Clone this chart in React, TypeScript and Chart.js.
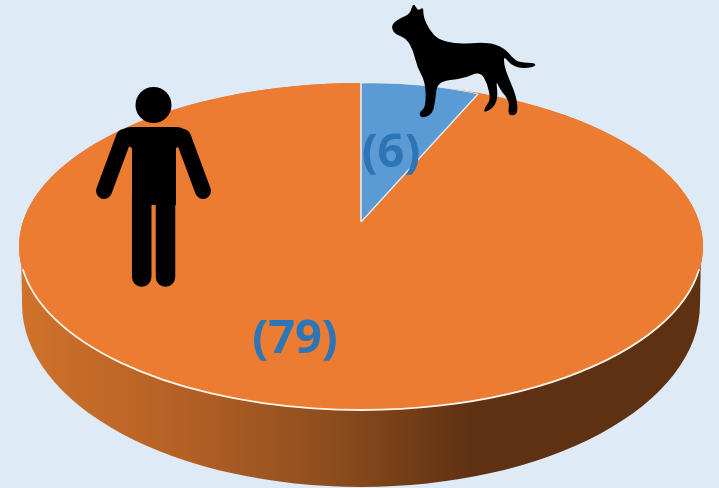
import React, { useEffect, useRef } from "react";
import { Chart, registerables } from "chart.js";

Chart.register(...registerables);

const categories = ["Dog", "Human"];
const seriesValues = [6, 79];
const sliceColors = ["#5B9BD5", "#EB7C31"];

const BG = "#DEEAF6";
const TEXT = "#2E75B6";
const W = 719;
const H = 488;

// Perspective look of the top face
const FACE = { cx: 361, cy: 246.5, rx: 342, ry: 163.5 };
const RIM = { cx: 361, cy: 304, rx: 339, ry: 183 };
const APEX = { x: 361, y: 222 };
const TIP = { x: 478, y: 94 };
const TOP_Y = 83;
const LABEL_POS = [
  { x: 391, y: 154 },
  { x: 295, y: 340 },
];

// Decorative silhouettes
const dogOutline = [
  [94, 72], [125, 52], [150, 42], [160, 6], [174, 34], [190, 20], [190, 50], [208, 90], [235, 118],
  [290, 133], [380, 126], [432, 142], [458, 175], [480, 188], [526, 188], [526, 200], [480, 206],
  [450, 192], [432, 168], [432, 195], [444, 230], [470, 290], [474, 346], [442, 346], [450, 305],
  [420, 268], [408, 240], [414, 290], [402, 322], [370, 340], [376, 320], [392, 300], [382, 250],
  [360, 214], [310, 236], [232, 244], [226, 300], [218, 342], [185, 356], [176, 338], [198, 322],
  [196, 244], [172, 204], [160, 152], [138, 114], [100, 100],
];

function drawMan(ctx: CanvasRenderingContext2D) {
  ctx.save();
  ctx.fillStyle = "#000";
  ctx.strokeStyle = "#000";
  ctx.lineCap = "round";
  ctx.lineJoin = "round";
  ctx.beginPath();
  ctx.arc(153.5, 105, 18, 0, Math.PI * 2);
  ctx.fill();
  ctx.beginPath();
  ctx.moveTo(116, 140);
  ctx.quadraticCurveTo(120, 127, 132, 127);
  ctx.lineTo(176, 127);
  ctx.quadraticCurveTo(187, 127, 191, 140);
  ctx.lineTo(176, 148);
  ctx.lineTo(176, 205);
  ctx.lineTo(132, 205);
  ctx.lineTo(132, 148);
  ctx.closePath();
  ctx.fill();
  ctx.lineWidth = 16;
  ctx.beginPath();
  ctx.moveTo(124, 137);
  ctx.lineTo(104, 191);
  ctx.moveTo(183, 137);
  ctx.lineTo(203, 191);
  ctx.stroke();
  ctx.lineWidth = 19.5;
  ctx.lineCap = "butt";
  ctx.beginPath();
  ctx.moveTo(141.7, 195);
  ctx.lineTo(141.7, 277);
  ctx.moveTo(165.5, 195);
  ctx.lineTo(165.5, 277);
  ctx.stroke();
  ctx.beginPath();
  ctx.arc(141.7, 277, 9.75, 0, Math.PI);
  ctx.arc(165.5, 277, 9.75, 0, Math.PI);
  ctx.fill();
  ctx.restore();
}

function drawDog(ctx: CanvasRenderingContext2D) {
  const pts = dogOutline.map(([zx, zy]) => [360 + zx / 3, zy / 3]);
  const n = pts.length;
  ctx.save();
  ctx.fillStyle = "#000";
  ctx.beginPath();
  const mid = (p: number[], q: number[]) => [(p[0] + q[0]) / 2, (p[1] + q[1]) / 2];
  const s = mid(pts[n - 1], pts[0]);
  ctx.moveTo(s[0], s[1]);
  pts.forEach((p, i) => {
    const m = mid(p, pts[(i + 1) % n]);
    ctx.quadraticCurveTo(p[0], p[1], m[0], m[1]);
  });
  ctx.closePath();
  ctx.fill();
  ctx.restore();
}

const piePlugin = {
  id: "tiltedPie",
  beforeDatasetDraw(chart: any, args: any) {
    const ctx: CanvasRenderingContext2D = chart.ctx;
    const arcs = args.meta.data;
    const blue = arcs[0];
    const orange = arcs[1];
    const { x: cx, y: cy, outerRadius: R } = blue;

    // side wall
    const grad = ctx.createLinearGradient(RIM.cx - RIM.rx, 0, RIM.cx + RIM.rx, 0);
    grad.addColorStop(0, "#CF722B");
    grad.addColorStop(0.25, "#B25F25");
    grad.addColorStop(0.45, "#8E4E1E");
    grad.addColorStop(0.66, "#5F3113");
    grad.addColorStop(1, "#5F3113");
    ctx.save();
    ctx.beginPath();
    ctx.moveTo(RIM.cx - RIM.rx - 1, FACE.cy);
    ctx.lineTo(RIM.cx - RIM.rx, RIM.cy - 5);
    ctx.ellipse(RIM.cx, RIM.cy, RIM.rx, RIM.ry, 0, Math.PI, 0, true);
    ctx.lineTo(RIM.cx + RIM.rx + 1, FACE.cy);
    ctx.closePath();
    ctx.fillStyle = grad;
    ctx.fill();
    ctx.restore();

    // base of the top face, same ellipse as the orange slice
    ctx.save();
    ctx.beginPath();
    ctx.ellipse(FACE.cx, FACE.cy, FACE.rx, FACE.ry, 0, 0, Math.PI * 2);
    ctx.fillStyle = sliceColors[1];
    ctx.fill();
    ctx.restore();

    // orange slice: plain tilt
    ctx.save();
    ctx.translate(FACE.cx, FACE.cy);
    ctx.transform(FACE.rx / R, 0, 0, FACE.ry / R, 0, 0);
    ctx.translate(-cx, -cy);
    orange.draw(ctx);
    ctx.restore();

    // white front highlight
    ctx.save();
    ctx.beginPath();
    ctx.ellipse(FACE.cx, FACE.cy, FACE.rx - 0.5, FACE.ry, 0, 0.14, Math.PI - 0.14);
    ctx.strokeStyle = "#FFF3EA";
    ctx.lineWidth = 1.8;
    ctx.stroke();
    ctx.restore();

    // blue slice: tilt with the pie's far-side foreshortening
    const end = blue.endAngle + Math.PI / 2;
    const sx = R * Math.sin(end);
    const sy = -R * Math.cos(end);
    const d = (APEX.y - TOP_Y) / R;
    const a = (TIP.x - APEX.x) / sx;
    const b = (TIP.y - APEX.y - d * sy) / sx;
    ctx.save();
    ctx.translate(APEX.x, APEX.y);
    ctx.transform(a, b, 0, d, 0, 0);
    ctx.translate(-cx, -cy);
    blue.draw(ctx);
    ctx.restore();
    return false;
  },
  afterDatasetsDraw(chart: any) {
    const ctx: CanvasRenderingContext2D = chart.ctx;
    drawMan(ctx);
    drawDog(ctx);
    ctx.save();
    ctx.font = "bold 47px 'Open Sans'";
    ctx.fillStyle = TEXT;
    ctx.textAlign = "center";
    ctx.textBaseline = "middle";
    seriesValues.forEach((v, i) => {
      ctx.fillText(`(${v})`, LABEL_POS[i].x, LABEL_POS[i].y);
    });
    ctx.restore();
  },
};

export default function App() {
  const ref = useRef<HTMLCanvasElement>(null);
  useEffect(() => {
    if (!ref.current) return;
    const chart = new Chart(ref.current, {
      type: "pie",
      data: {
        labels: categories,
        datasets: [
          {
            data: seriesValues,
            backgroundColor: sliceColors,
            borderColor: ["#E4EDF5", sliceColors[1]],
            borderWidth: [2, 0],
            radius: 342,
          } as any,
        ],
      },
      options: {
        responsive: false,
        animation: false,
        devicePixelRatio: 1,
        layout: { padding: 0 },
        plugins: { legend: { display: false }, tooltip: { enabled: false }, title: { display: false } },
      },
      plugins: [piePlugin as any],
    });
    return () => chart.destroy();
  }, []);
  return (
    <div style={{ position: "fixed", left: 0, top: 0, width: W, height: H, background: BG, overflow: "hidden" }}>
      <canvas ref={ref} width={W} height={H} style={{ display: "block", filter: "blur(0.7px)" }} />
    </div>
  );
}
